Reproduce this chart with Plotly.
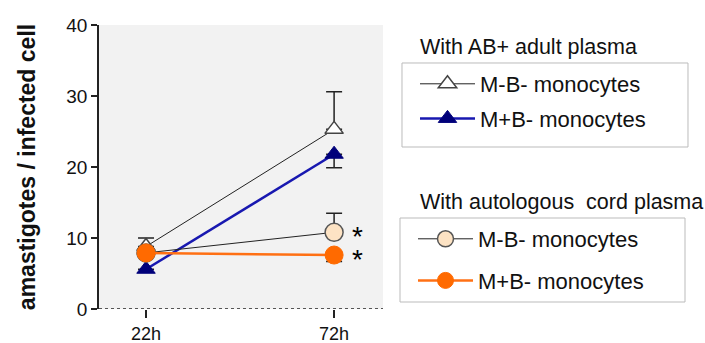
import plotly.graph_objects as go

timepoints = ["22h", "72h"]

adult_mnb_mean = [8.8, 25.3]
adult_mnb_err_up = [1.2, 5.3]
adult_mnb_err_down = [0, 0]

adult_mpb_mean = [5.6, 21.8]
adult_mpb_err_up = [0, 0]
adult_mpb_err_down = [0, 1.9]

cord_mnb_mean = [7.9, 10.8]
cord_mnb_err_up = [0, 2.7]
cord_mnb_err_down = [0, 0]

cord_mpb_mean = [7.9, 7.6]
cord_mpb_err_up = [0, 0]
cord_mpb_err_down = [0, 0.9]

y_ticks = [0, 10, 20, 30, 40]
significance = ["*", "*"]

FONT = "Liberation Sans, Arial, sans-serif"

fig = go.Figure()

def add(name, y, up, down, legend, group, line_color, lw, symbol, msize, mfill, mline, mlw):
    fig.add_trace(go.Scatter(
        x=timepoints, y=y, name=name, mode="lines+markers",
        legend=legend, legendgroup=group,
        line=dict(color=line_color, width=lw),
        marker=dict(symbol=symbol, size=msize, color=mfill,
                    line=dict(color=mline, width=mlw)),
        error_y=dict(type="data", symmetric=False, array=up, arrayminus=down,
                     color="#222222", thickness=1.5, width=8),
    ))

add("M-B- monocytes", adult_mnb_mean, adult_mnb_err_up, adult_mnb_err_down,
    "legend", "a1", "#222222", 1, "triangle-up", 16, "white", "#444444", 1.5)
add("M+B- monocytes", adult_mpb_mean, adult_mpb_err_up, adult_mpb_err_down,
    "legend", "a2", "#1818b0", 2.5, "triangle-up", 16, "#00007a", "#00007a", 1)
add("M-B- monocytes", cord_mnb_mean, cord_mnb_err_up, cord_mnb_err_down,
    "legend2", "c1", "#222222", 1, "circle", 18, "#fde3c4", "#555555", 1.5)
add("M+B- monocytes", cord_mpb_mean, cord_mpb_err_up, cord_mpb_err_down,
    "legend2", "c2", "#ff7014", 2.5, "circle", 18, "#ff6a00", "#ff6a00", 1)

# significance asterisks next to the cord-plasma points at 72h
for y, s in zip([cord_mnb_mean[1], cord_mpb_mean[1]], significance):
    fig.add_annotation(x=timepoints[1], y=y, text=s, showarrow=False,
                       xshift=23, yshift=-4, font=dict(family=FONT, size=28, color="black"))

fig.add_annotation(xref="paper", yref="paper", x=1.123, y=0.9225, xanchor="left", yanchor="middle",
                   text="With AB+ adult plasma", showarrow=False,
                   font=dict(family=FONT, size=21.5, color="#111111"))
fig.add_annotation(xref="paper", yref="paper", x=1.123, y=0.377, xanchor="left", yanchor="middle",
                   text="With autologous  cord plasma", showarrow=False,
                   font=dict(family=FONT, size=21.5, color="#111111"))

# dotted zero line
fig.add_shape(type="line", xref="paper", yref="y", x0=0, x1=1, y0=0, y1=0,
              line=dict(color="#222222", width=1.5, dash="dot"))

# legend frames
fig.add_shape(type="rect", xref="paper", yref="paper", x0=1.0669, x1=2.0739, y0=0.5704, y1=0.8662,
              line=dict(color="#bbbbbb", width=1), fillcolor="rgba(0,0,0,0)", layer="above")
fig.add_shape(type="rect", xref="paper", yref="paper", x0=1.0599, x1=2.0634, y0=0.0246, y1=0.3204,
              line=dict(color="#bbbbbb", width=1), fillcolor="rgba(0,0,0,0)", layer="above")

legend_common = dict(
    xref="container", yref="container",
    xanchor="left", yanchor="top", bgcolor="rgba(0,0,0,0)", borderwidth=0,
    font=dict(family=FONT, size=22, color="#111111"), itemwidth=55, indentation=13,
    itemclick=False, itemdoubleclick=False,
)

fig.update_layout(
    width=705, height=343,
    margin=dict(l=99, r=322, t=25, b=34, autoexpand=False),
    paper_bgcolor="white", plot_bgcolor="#f2f2f2",
    showlegend=True,
    legend=dict(x=402 / 705, y=1 - 63 / 343, tracegroupgap=3, **legend_common),
    legend2=dict(x=400 / 705, y=1 - 218 / 343, tracegroupgap=10, **legend_common),
    font=dict(family=FONT, color="#111111"),
    xaxis=dict(type="category", range=[-0.25, 1.26], showgrid=False, zeroline=False,
               showline=False, ticks="outside", ticklen=8, tickwidth=1.5, tickcolor="#222222",
               tickfont=dict(size=18, color="#111111")),
    yaxis=dict(range=[0, 40], tickvals=y_ticks, showgrid=False, zeroline=False,
               showline=True, linecolor="#222222", linewidth=1.5,
               ticks="outside", ticklen=6, tickwidth=1.5, tickcolor="#222222",
               tickfont=dict(size=19, color="#111111"),
               title=dict(text="<b>amastigotes / infected cell</b>", standoff=24,
                          font=dict(size=23, color="#111111"))),
)

fig.write_html("out.html", config={"displayModeBar": False},
               post_script="document.body.style.margin='0';")
